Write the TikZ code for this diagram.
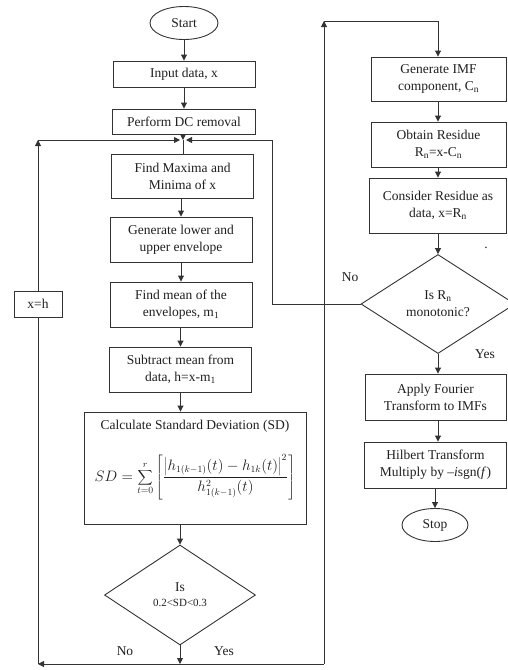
\documentclass[tikz,border=0pt]{standalone}
\usepackage{fontspec}
\setmainfont{Liberation Serif}
\usetikzlibrary{shapes.geometric,arrows.meta}
\begin{document}
\begin{tikzpicture}[x=1pt,y=-1pt,
  every node/.style={font=\fontsize{13.5}{17}\selectfont, text=black!88},
  line/.style={draw=black!80, line width=0.9pt},
  arr/.style={line, -{Triangle[length=6pt,width=6pt]}},
  box/.style={line, rectangle, align=center, inner sep=1pt},
  term/.style={line, ellipse, inner sep=0pt},
  dec/.style={line, diamond, align=center, inner sep=0pt},
  lab/.style={font=\fontsize{13.5}{16}\selectfont}]
\useasboundingbox (0,0) rectangle (507,670);
% left column
\node[term, minimum width=68, minimum height=33] (start) at (184,23) {Start};
\node[box, minimum width=142, minimum height=26] (input) at (184,74) {Input data, x};
\node[box, minimum width=143, minimum height=25] (dc) at (184,121.5) {Perform DC removal};
\coordinate (merge) at (183,140);
\node[box, minimum width=142, minimum height=44] (findmax) at (182.5,176) {Find Maxima and\\Minima of x};
\node[box, minimum width=142, minimum height=45] (genlow) at (181,239.5) {Generate lower and\\upper envelope};
\node[box, minimum width=142, minimum height=45] (mean) at (181,304.5) {Find mean of the\\envelopes, m\textsubscript{1}};
\node[box, minimum width=142, minimum height=45] (sub) at (180.5,369.5) {Subtract mean from\\data, h=x-m\textsubscript{1}};
\node[box, minimum width=222, minimum height=112] (sd) at (195,468) {};
\node (sdtitle) at (195,426) {Calculate Standard Deviation (SD)};
\node (sdformula) at (195,477) {\scalebox{1.05}{$\displaystyle SD=\sum_{t=0}^{r}\left[\frac{\left|h_{1(k-1)}(t)-h_{1k}(t)\right|^{2}}{h^{2}_{1(k-1)}(t)}\right]$}};
\node[dec, minimum width=151, minimum height=100] (dia1) at (180,595) {Is\\[-2pt]{\fontsize{11}{13}\selectfont 0.2<SD<0.3}};
\coordinate (bot) at (180,664);
\coordinate (botL) at (38,664);
\coordinate (topL) at (38,140);
\coordinate (botR) at (324,664);
\coordinate (topR) at (324,21);
\coordinate (topRR) at (438,21);
\node[box, minimum width=48, minimum height=26] (xh) at (38,304) {x=h};
% right column
\node[box, minimum width=135, minimum height=44] (genimf) at (438.5,79) {Generate IMF\\component, C\textsubscript{n}};
\node[box, minimum width=135, minimum height=45] (obtain) at (438.5,144.5) {Obtain Residue\\R\textsubscript{n}=x-C\textsubscript{n}};
\node[box, minimum width=137, minimum height=55] (consider) at (438,205.5) {Consider Residue as\\data, x=R\textsubscript{n}};
\node[dec, minimum width=154, minimum height=99] (dia2) at (438,304) {Is R\textsubscript{n}\\monotonic?};
\node[box, minimum width=141, minimum height=46] (fourier) at (435.5,397) {Apply Fourier\\Transform to IMFs};
\node[box, minimum width=142, minimum height=46] (hilbert) at (435.5,465) {Hilbert Transform\\Multiply by –\textit{i}sgn(\textit{f})};
\node[term, minimum width=66, minimum height=33] (stop) at (435,525) {Stop};
\coordinate (noL) at (272,304);
\coordinate (noT) at (272,140);
% labels
\node[lab] (no1) at (125,651) {No};
\node[lab] (yes1) at (224,651) {Yes};
\node[lab] (no2) at (350,277) {No};
\node[lab] (yes2) at (485,354) {Yes};
\node[lab] (dot) at (486,248) {.};
% connectors left
\draw[arr] (start) -- (start |- input.north);
\draw[arr] (input.south -| start) -- (start |- dc.north);
\draw[arr] (dc.south -| merge) -- (merge);
\draw[line] (merge) -- (merge |- findmax.north);
\draw[arr] (findmax.south -| genlow) -- (genlow.north);
\draw[arr] (genlow) -- (mean);
\draw[arr] (mean.south -| sub) -- (sub.north);
\draw[arr] (sub.south) -- (sub.south |- sd.north);
\draw[arr] (sd.south -| dia1) -- (dia1.north);
\draw[arr] (dia1) -- (bot);
\draw[arr] (bot) -- (botL);
\draw[line] (botL) -- (xh);
\draw[arr] (xh) -- (topL);
\draw[arr] (topL) -- ([xshift=-3pt]merge);
% yes branch
\draw[line] (bot) -- (botR);
\draw[arr] (botR) -- (topR);
\draw[line] (topR) -- (topRR);
\draw[arr] (topRR) -- (topRR |- genimf.north);
% right column
\draw[arr] (genimf.south -| topRR) -- (topRR |- obtain.north);
\draw[arr] (obtain.south -| topRR) -- (topRR |- consider.north);
\draw[arr] (consider.south -| topRR) -- (dia2.north);
\draw[arr] (dia2.south) -- (dia2.south |- fourier.north);
\draw[arr] (fourier.south -| dia2) -- (dia2 |- hilbert.north);
\draw[arr] (hilbert.south -| stop) -- (stop.north);
% no branch right
\draw[line] (dia2.west) -- (noL) -- (noT);
\draw[arr] (noT) -- ([xshift=3pt]merge);
\end{tikzpicture}
\end{document}
